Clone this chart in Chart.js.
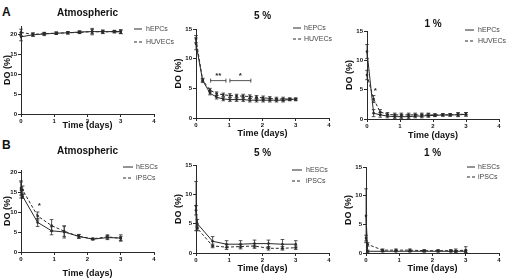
<!DOCTYPE html>
<html>
<head>
<meta charset="utf-8">
<script src="https://cdn.jsdelivr.net/npm/chart.js@4.4.1/dist/chart.umd.min.js"></script>
<style>
  body { margin: 0; width: 509px; height: 278px; background: #fff; position: relative; overflow: hidden; font-family: "Liberation Sans", Arial, sans-serif; }
  canvas { position: absolute; left: 0; }
  .letter { position: absolute; font-weight: bold; font-size: 12px; color: #111; line-height: 12px; }
</style>
</head>
<body>
<div class="letter" style="left:2px;top:6px">A</div>
<div class="letter" style="left:2px;top:139px">B</div>
<canvas id="a1" width="509" height="145" style="top:0"></canvas>
<canvas id="a2" width="509" height="145" style="top:0"></canvas>
<canvas id="a3" width="509" height="145" style="top:0"></canvas>
<canvas id="b1" width="509" height="143" style="top:135px"></canvas>
<canvas id="b2" width="509" height="143" style="top:135px"></canvas>
<canvas id="b3" width="509" height="143" style="top:135px"></canvas>
<script>
// ---- data ----
const xTicks = [0, 1, 2, 3, 4];
const yTicks20 = [0, 5, 10, 15, 20];
const yTicks15 = [0, 5, 10, 15];
const labelsA = ['hEPCs', 'HUVECs'];
const labelsB = ['hESCs', 'iPSCs'];

// A, atmospheric
const timeA1 = [0, 0.36, 0.7, 1.06, 1.41, 1.76, 2.14, 2.46, 2.81, 3.0];
const hepcA1 = [19.3, 19.8, 20.0, 20.2, 20.3, 20.5, 20.6, 20.6, 20.6, 20.6];
const hepcA1Err = [1.0, 0.4, 0.4, 0.3, 0.3, 0.3, 0.8, 0.4, 0.3, 0.5];
const huvecA1 = [20.4, 19.9, 20.1, 20.2, 20.3, 20.4, 20.6, 20.5, 20.6, 20.5];
const huvecA1Err = [0.8, 0.4, 0.3, 0.3, 0.3, 0.3, 0.5, 0.4, 0.3, 0.4];

// A, 5 %
const timeA2 = [0, 0.2, 0.42, 0.62, 0.82, 1.02, 1.22, 1.42, 1.62, 1.82, 2.02, 2.22, 2.42, 2.62, 2.82, 3.0];
const hepcA2 = [12.5, 6.3, 4.2, 3.5, 3.2, 3.1, 3.1, 3.1, 3.0, 3.0, 3.0, 3.0, 3.0, 3.0, 3.1, 3.2];
const hepcA2Err = [1.0, 0.3, 0.3, 0.3, 0.3, 0.3, 0.3, 0.3, 0.3, 0.3, 0.3, 0.3, 0.3, 0.3, 0.2, 0.2];
const huvecA2 = [13.3, 6.4, 4.7, 4.1, 3.9, 3.8, 3.7, 3.7, 3.6, 3.5, 3.4, 3.3, 3.2, 3.2, 3.2, 3.1];
const huvecA2Err = [0.6, 0.3, 0.3, 0.3, 0.3, 0.3, 0.3, 0.3, 0.3, 0.3, 0.3, 0.3, 0.3, 0.3, 0.2, 0.2];

// A, 1 %
const timeA3 = [0, 0.2, 0.4, 0.62, 0.84, 1.04, 1.26, 1.46, 1.66, 1.86, 2.06, 2.3, 2.52, 2.76, 3.0];
const hepcA3 = [11.5, 1.0, 0.7, 0.5, 0.4, 0.4, 0.4, 0.5, 0.5, 0.6, 0.6, 0.7, 0.7, 0.7, 0.8];
const hepcA3Err = [1.2, 0.6, 0.4, 0.3, 0.3, 0.3, 0.3, 0.3, 0.3, 0.3, 0.2, 0.2, 0.2, 0.3, 0.3];
const huvecA3 = [7.5, 3.4, 1.2, 0.8, 0.7, 0.7, 0.7, 0.7, 0.7, 0.7, 0.7, 0.7, 0.7, 0.8, 0.8];
const huvecA3Err = [0.8, 0.6, 0.4, 0.3, 0.3, 0.3, 0.3, 0.3, 0.3, 0.3, 0.2, 0.2, 0.2, 0.3, 0.3];

// B, atmospheric
const timeB1 = [0, 0.05, 0.5, 0.92, 1.3, 1.74, 2.16, 2.6, 3.0];
const hescB1 = [15.5, 13.9, 7.4, 5.3, 5.0, 3.9, 3.2, 3.6, 3.5];
const hescB1Err = [2.0, 0.5, 1.0, 1.0, 1.5, 0.4, 0.2, 0.5, 0.8];
const ipscB1 = [16.0, 15.5, 9.0, 6.6, 5.2, 3.9, 3.3, 3.8, 3.4];
const ipscB1Err = [1.8, 1.0, 1.0, 1.5, 1.3, 0.5, 0.2, 0.5, 0.5];

// B, 5 %
const timeB2 = [0, 0.04, 0.5, 0.92, 1.34, 1.76, 2.18, 2.6, 3.0];
const hescB2 = [8.0, 5.0, 2.0, 1.5, 1.5, 1.6, 1.6, 1.5, 1.5];
const hescB2Err = [4.2, 0.7, 0.8, 0.6, 0.6, 0.6, 0.6, 0.8, 0.6];
const ipscB2 = [7.3, 4.2, 1.2, 1.0, 1.1, 1.2, 0.8, 0.8, 0.9];
const ipscB2Err = [0.8, 0.4, 0.3, 0.4, 0.4, 0.4, 0.3, 0.3, 0.3];

// B, 1 %
const timeB3 = [0, 0.05, 0.5, 0.9, 1.32, 1.75, 2.17, 2.55, 2.7, 3.0];
const hescB3 = [6.5, 0.3, 0.3, 0.3, 0.3, 0.3, 0.3, 0.3, 0.3, 0.3];
const hescB3Err = [4.7, 0.2, 0.1, 0.1, 0.1, 0.1, 0.1, 0.1, 0.1, 0.2];
const ipscB3 = [2.6, 1.5, 0.5, 0.5, 0.5, 0.4, 0.4, 0.4, 0.4, 0.5];
const ipscB3Err = [0.5, 0.3, 0.2, 0.2, 0.2, 0.2, 0.2, 0.2, 0.3, 0.6];

// significance marks: [x0, x1, y, text]
const sigA2 = [[0.44, 0.9, 6.3, '**'], [1.02, 1.65, 6.3, '*']];
const starA3 = [[0.25, 4.9, '*']];
const starB1 = [[0.55, 11.8, '*']];

// ---- drawing ----
const FONT = '"Liberation Sans", Arial, sans-serif';
const INK = '#2a2a2a';
Chart.defaults.font.family = FONT;

function extrasPlugin(p) {
  return {
    id: 'extras',
    afterDatasetsDraw(chart) {
      const { ctx, chartArea } = chart;
      const xs = chart.scales.x, ys = chart.scales.y;
      ctx.save();
      ctx.strokeStyle = INK;
      ctx.lineWidth = 0.8;
      chart.data.datasets.forEach((ds, i) => {
        ds.data.forEach((pt, k) => {
          const e = p.series[i].err[k];
          const px = xs.getPixelForValue(pt.x);
          const t = ys.getPixelForValue(pt.y + e);
          const b = ys.getPixelForValue(Math.max(0, pt.y - e));
          ctx.beginPath();
          ctx.moveTo(px, t); ctx.lineTo(px, b);
          ctx.moveTo(px - 1.8, t); ctx.lineTo(px + 1.8, t);
          ctx.moveTo(px - 1.8, b); ctx.lineTo(px + 1.8, b);
          ctx.stroke();
        });
      });
      // brackets with stars
      ctx.fillStyle = INK;
      ctx.font = 'bold 8px ' + FONT;
      ctx.textAlign = 'center';
      ctx.textBaseline = 'middle';
      (p.brackets || []).forEach(([x0, x1, yv, txt]) => {
        const a = xs.getPixelForValue(x0), c = xs.getPixelForValue(x1), yy = ys.getPixelForValue(yv);
        ctx.beginPath();
        ctx.moveTo(a, yy); ctx.lineTo(c, yy);
        ctx.moveTo(a, yy - 2); ctx.lineTo(a, yy + 2);
        ctx.moveTo(c, yy - 2); ctx.lineTo(c, yy + 2);
        ctx.stroke();
        ctx.fillText(txt, (a + c) / 2, yy - 5);
      });
      (p.stars || []).forEach(([xv, yv, txt]) => {
        ctx.fillText(txt, xs.getPixelForValue(xv), ys.getPixelForValue(yv) + 1);
      });
      // panel title
      ctx.font = 'bold 10px ' + FONT;
      ctx.fillStyle = '#111';
      ctx.fillText(p.title, (chartArea.left + chartArea.right) / 2, p.titleY - p.top);
      // legend
      ctx.textAlign = 'left';
      ctx.font = '7px ' + FONT;
      chart.data.datasets.forEach((ds, i) => {
        const yy = p.legY[i] - p.top;
        ctx.strokeStyle = INK;
        ctx.lineWidth = 1;
        ctx.setLineDash(ds.borderDash);
        ctx.beginPath();
        ctx.moveTo(p.legX[0], yy); ctx.lineTo(p.legX[1], yy);
        ctx.stroke();
        ctx.setLineDash([]);
        ctx.fillStyle = '#444';
        ctx.fillText(ds.label, p.legX[2], yy);
      });
      ctx.restore();
    }
  };
}

function makePanel(id, p) {
  const canvas = document.getElementById(id);
  const H = canvas.height;
  const half = 4.5; // half of axis title line height
  const yLeft = p.yTitleX - half;
  const yWidth = p.L - yLeft;
  const xBottom = p.xTitleY - p.top + half;
  const xHeight = xBottom - (p.B - p.top);
  const tickFont = { size: 6, weight: 'bold', family: FONT };
  const axisTitleFont = { size: 9, weight: 'bold', family: FONT, lineHeight: 1 };
  new Chart(canvas, {
    type: 'line',
    data: {
      datasets: p.series.map((s, i) => ({
        label: s.label,
        data: s.x.map((t, k) => ({ x: t, y: s.y[k] })),
        borderColor: INK,
        backgroundColor: INK,
        borderWidth: 1,
        borderDash: i ? [3, 2] : [],
        pointRadius: 1.3,
        pointBorderWidth: 0,
        pointBackgroundColor: INK,
        tension: 0,
        fill: false,
        clip: false
      }))
    },
    options: {
      responsive: false,
      animation: false,
      layout: { padding: { left: yLeft, top: p.T - p.top, right: 509 - p.R, bottom: H - xBottom } },
      plugins: { legend: { display: false }, tooltip: { enabled: false } },
      scales: {
        x: {
          type: 'linear', min: 0, max: 4,
          afterFit(s) { s.height = xHeight; },
          afterBuildTicks(s) { s.ticks = xTicks.map(v => ({ value: v })); },
          grid: { drawOnChartArea: false, tickLength: 3, color: INK, lineWidth: 1 },
          border: { color: INK, width: 1 },
          ticks: { font: tickFont, color: '#111', padding: 1, maxRotation: 0 },
          title: { display: true, text: 'Time (days)', font: axisTitleFont, color: '#111', padding: 0 }
        },
        y: {
          min: 0, max: p.yMax,
          afterFit(s) { s.width = yWidth; },
          afterBuildTicks(s) { s.ticks = p.yTicks.map(v => ({ value: v })); },
          grid: { drawOnChartArea: false, tickLength: 3, color: INK, lineWidth: 1 },
          border: { color: INK, width: 1 },
          ticks: { font: tickFont, color: '#111', padding: 1 },
          title: { display: true, text: 'DO (%)', font: axisTitleFont, color: '#111', padding: 0 }
        }
      }
    },
    plugins: [extrasPlugin(p)]
  });
}

makePanel('a1', {
  top: 0, L: 21, R: 154, T: 26, B: 114, yMax: 22, yTicks: yTicks20,
  title: 'Atmospheric', titleY: 13, xTitleY: 126, yTitleX: 8,
  legX: [134, 142, 146], legY: [29, 42],
  series: [
    { label: labelsA[0], x: timeA1, y: hepcA1, err: hepcA1Err },
    { label: labelsA[1], x: timeA1, y: huvecA1, err: huvecA1Err }
  ]
});
makePanel('a2', {
  top: 0, L: 196, R: 329, T: 29, B: 118, yMax: 15, yTicks: yTicks15,
  title: '5 %', titleY: 16, xTitleY: 134, yTitleX: 179,
  legX: [293, 301, 304], legY: [28, 39],
  brackets: sigA2,
  series: [
    { label: labelsA[0], x: timeA2, y: hepcA2, err: hepcA2Err },
    { label: labelsA[1], x: timeA2, y: huvecA2, err: huvecA2Err }
  ]
});
makePanel('a3', {
  top: 0, L: 367, R: 499, T: 31, B: 119, yMax: 15, yTicks: yTicks15,
  title: '1 %', titleY: 24, xTitleY: 136, yTitleX: 350,
  legX: [465, 474, 478], legY: [30, 41],
  stars: starA3,
  series: [
    { label: labelsA[0], x: timeA3, y: hepcA3, err: hepcA3Err },
    { label: labelsA[1], x: timeA3, y: huvecA3, err: huvecA3Err }
  ]
});
makePanel('b1', {
  top: 135, L: 21, R: 154, T: 170, B: 252, yMax: 20.5, yTicks: yTicks20,
  title: 'Atmospheric', titleY: 151, xTitleY: 274, yTitleX: 8,
  legX: [123, 133, 136], legY: [167, 178],
  stars: starB1,
  series: [
    { label: labelsB[0], x: timeB1, y: hescB1, err: hescB1Err },
    { label: labelsB[1], x: timeB1, y: ipscB1, err: ipscB1Err }
  ]
});
makePanel('b2', {
  top: 135, L: 196, R: 329, T: 165, B: 253, yMax: 15, yTicks: yTicks15,
  title: '5 %', titleY: 153, xTitleY: 269, yTitleX: 179,
  legX: [292, 302, 306], legY: [170, 181],
  series: [
    { label: labelsB[0], x: timeB2, y: hescB2, err: hescB2Err },
    { label: labelsB[1], x: timeB2, y: ipscB2, err: ipscB2Err }
  ]
});
makePanel('b3', {
  top: 135, L: 366, R: 499, T: 167, B: 253, yMax: 15, yTicks: yTicks15,
  title: '1 %', titleY: 153, xTitleY: 269, yTitleX: 349,
  legX: [467, 475, 478], legY: [167, 177],
  series: [
    { label: labelsB[0], x: timeB3, y: hescB3, err: hescB3Err },
    { label: labelsB[1], x: timeB3, y: ipscB3, err: ipscB3Err }
  ]
});
</script>
</body>
</html>
